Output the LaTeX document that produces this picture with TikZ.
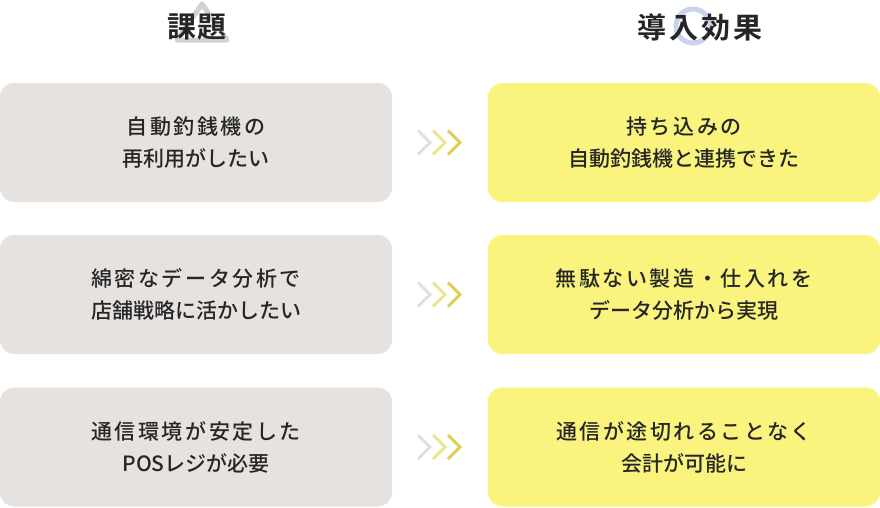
\documentclass[tikz,border=0pt]{standalone}
\usepackage{fontspec}
\setmainfont{Noto Sans CJK JP Medium}
\newfontfamily\hfont{Noto Sans CJK JP Bold}
\definecolor{gbox}{HTML}{E6E2DF}
\definecolor{ybox}{HTML}{FAF47E}
\definecolor{chA}{HTML}{E2E0DC}
\definecolor{chB}{HTML}{EDE690}
\definecolor{chC}{HTML}{DDD255}
\definecolor{ring}{HTML}{C9D2EE}
\definecolor{tri}{HTML}{D3D1CF}
\begin{document}
\begin{tikzpicture}[x=1pt,y=-1pt,
  box/.style={rounded corners=14pt,minimum width=392pt,minimum height=119pt,inner sep=0pt,align=center,font=\fontsize{21}{32}\selectfont,text=black!85},
  lbox/.style={box,fill=gbox},
  rbox/.style={box,fill=ybox},
  head/.style={font=\hfont\fontsize{29}{32}\selectfont,text=black!85},
  chev/.style={line width=3pt}]
\useasboundingbox (0,0) rectangle (880,507);
\draw[tri,line width=5pt,line join=round,fill=white] (202,4) -- (227,40) -- (177,40) -- cycle;
\draw[ring,line width=5pt] (693,26) circle (17);
\node[head] (h1) at (197,27) {課\hspace{2pt}題};
\node[head] (h2) at (700,27) {導\hspace{3pt}入\hspace{3pt}効\hspace{3pt}果};
\foreach \i/\y/\l/\r in {1/142.5/{自動釣銭機の\\再利用がしたい}/{持ち込みの\\自動釣銭機と連携できた},
  2/294.5/{綿密なデータ分析で\\店舗戦略に活かしたい}/{無駄ない製造・仕入れを\\データ分析から実現},
  3/447/{通信環境が安定した\\POSレジが必要}/{通信が途切れることなく\\会計が可能に}}{
  \node[lbox] (l\i) at (196,\y) {\addfontfeatures{LetterSpace=12}\l};
  \node[rbox] (r\i) at (684,\y) {\addfontfeatures{LetterSpace=12}\r};
  \coordinate (c\i) at (440,\y);
  \draw[chev,chA] ([shift={(-22,-12)}]c\i) -- ([shift={(-10,0)}]c\i) -- ([shift={(-22,12)}]c\i);
  \draw[chev,chB] ([shift={(-7,-12)}]c\i) -- ([shift={(5,0)}]c\i) -- ([shift={(-7,12)}]c\i);
  \draw[chev,chC] ([shift={(8,-12)}]c\i) -- ([shift={(20,0)}]c\i) -- ([shift={(8,12)}]c\i);
}
\end{tikzpicture}
\end{document}
